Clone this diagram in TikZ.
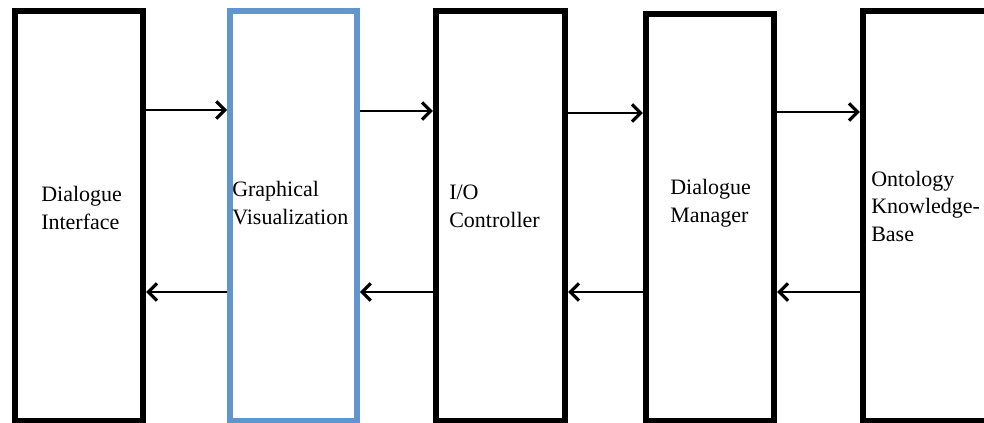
\documentclass[tikz,border=0pt]{standalone}
\usepackage{fontspec}
\setmainfont{Liberation Serif}
\usetikzlibrary{arrows.meta}
\definecolor{boxblue}{RGB}{96,150,204}
\begin{document}
\begin{tikzpicture}[x=0.75pt,y=-0.75pt,
  box/.style={draw=black, line width=4.7pt, inner sep=0pt, rectangle},
  bluebox/.style={box, draw=boxblue, line width=4.2pt},
  lbl/.style={font=\fontsize{16.5}{20.5}\selectfont, align=left, inner sep=0pt, anchor=base west},
  arr/.style={line width=1.1pt, -{Straight Barb[length=6.5pt,width=13pt,line width=2.4pt]}}]
\useasboundingbox (0,0) rectangle (984,422);
\fill[white] (0,0) rectangle (984,422);
% boxes
\node[box, minimum width=96pt, minimum height=307.5pt] (b1) at (79,216) {};
\node[bluebox, minimum width=95.25pt, minimum height=307.5pt] (b2) at (293.5,216) {};
\node[box, minimum width=96.75pt, minimum height=307.5pt] (b3) at (500.5,216) {};
\node[box, minimum width=96pt, minimum height=305.25pt] (b4) at (710,217.5) {};
\node[box, minimum width=110.25pt, minimum height=307.5pt] (b5) at (936.5,216) {};
% labels (anchor = baseline of last line)
\node[lbl] (t1) at (41,229) {Dialogue\\Interface};
\node[lbl] (t2) at (232,224) {Graphical\\Visualization};
\node[lbl] (t3) at (449,227) {I/O\\Controller};
\node[lbl] (t4) at (670,222) {Dialogue\\Manager};
\node[lbl] (t5) at (871,241) {Ontology\\Knowledge-\\Base};
% forward arrows
\draw[arr] (b1.east |- 0,110) -- (b2.west |- 0,110);
\draw[arr] (b2.east |- 0,111) -- (b3.west |- 0,111);
\draw[arr] (b3.east |- 0,113) -- (b4.west |- 0,113);
\draw[arr] (b4.east |- 0,112) -- (b5.west |- 0,112);
% backward arrows
\draw[arr] (b2.west |- 0,292) -- (b1.east |- 0,292);
\draw[arr] (b3.west |- 0,292) -- (b2.east |- 0,292);
\draw[arr] (b4.west |- 0,292) -- (b3.east |- 0,292);
\draw[arr] (b5.west |- 0,292) -- (b4.east |- 0,292);
\end{tikzpicture}
\end{document}
